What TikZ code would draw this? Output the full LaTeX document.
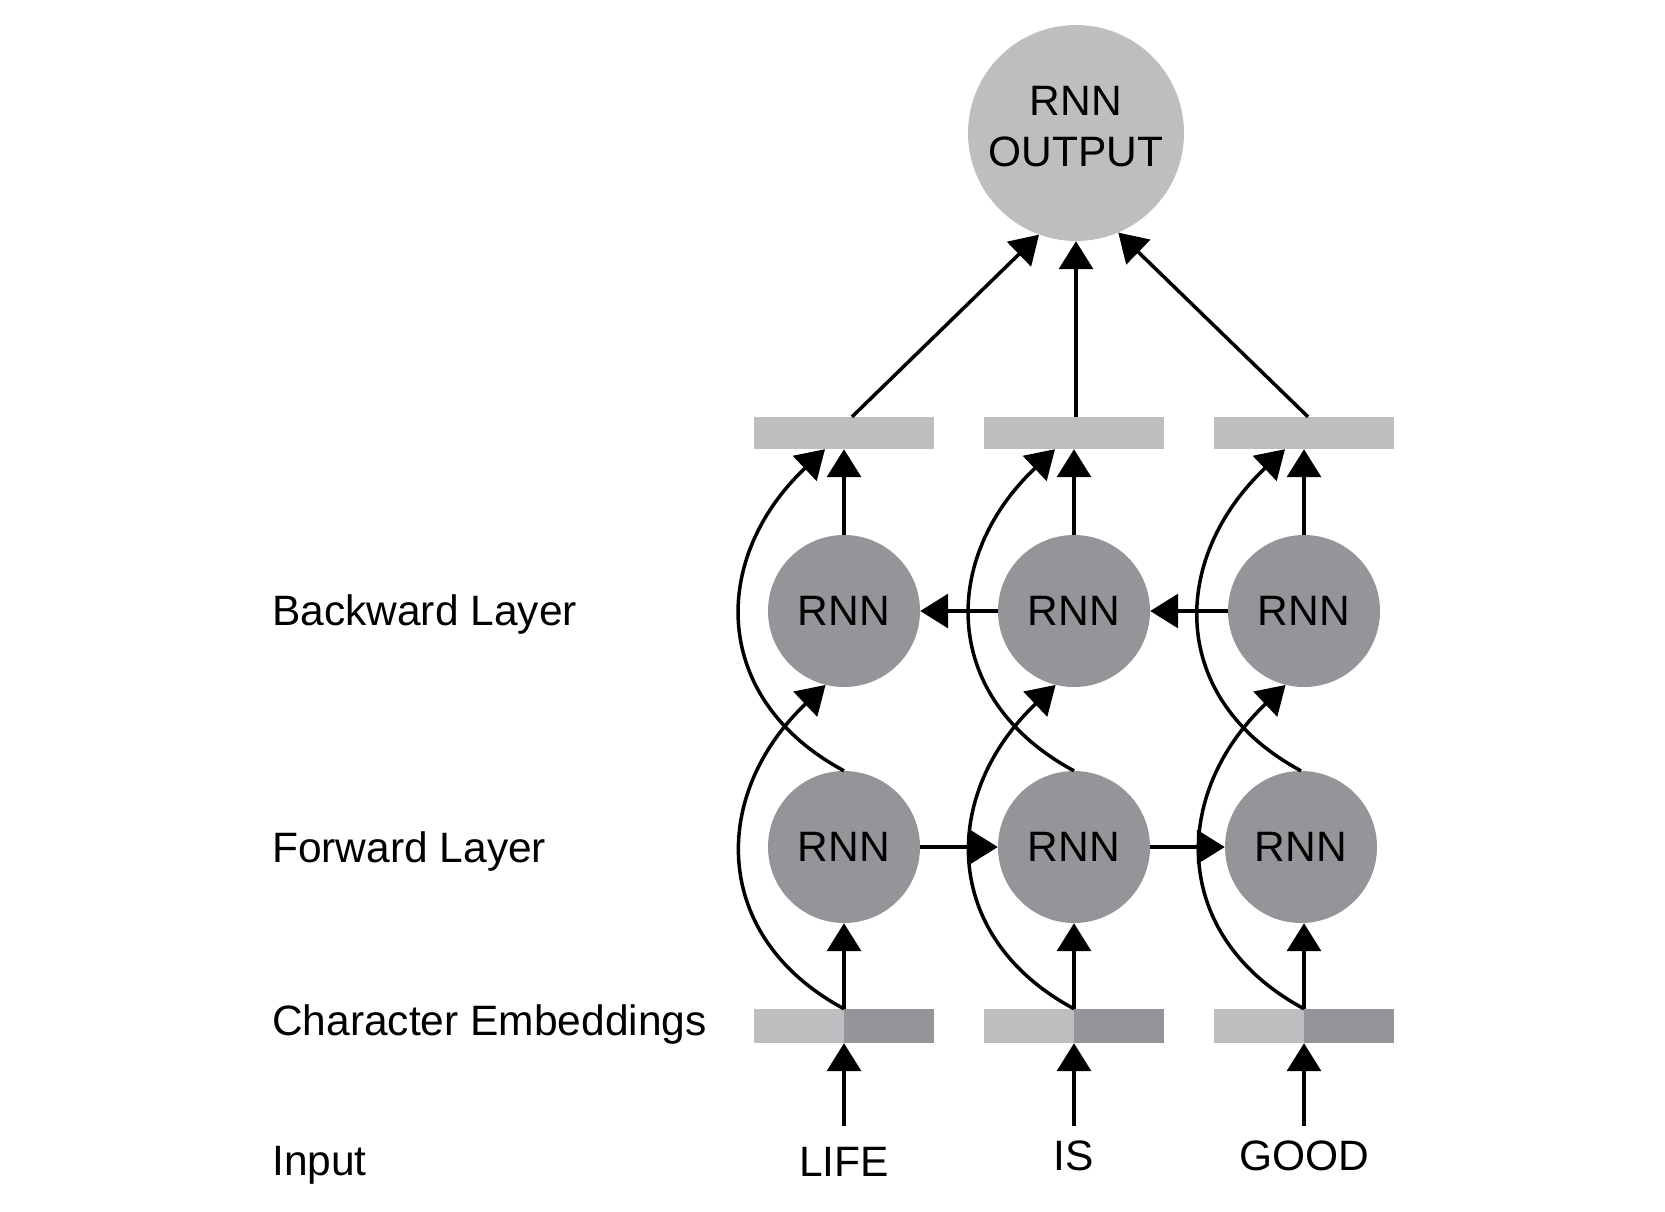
\documentclass[tikz,border=0pt]{standalone}
\usepackage{fontspec}
\setmainfont{Liberation Sans}
\usetikzlibrary{arrows.meta}
\definecolor{lightg}{RGB}{188,190,192}
\definecolor{darkg}{RGB}{147,149,152}
\begin{document}
\begin{tikzpicture}[x=1pt,y=-1pt,
  every node/.style={font=\fontsize{42.5}{51}\selectfont},
  rnn/.style={circle,fill=darkg,minimum size=152pt,inner sep=0pt},
  outc/.style={circle,fill=lightg,minimum size=216pt,inner sep=0pt,align=center},
  bar/.style={rectangle,fill=lightg,minimum width=180pt,minimum height=32pt,inner sep=0pt},
  emb/.style={rectangle,fill=lightg,minimum width=180pt,minimum height=34pt,inner sep=0pt,
    path picture={\fill[darkg] (path picture bounding box.north) rectangle (path picture bounding box.south east);}},
  lbl/.style={anchor=base west,inner sep=0pt},
  word/.style={anchor=base,inner sep=0pt},
  arr/.style={line width=3.5pt,-{Triangle[width=34pt,length=28pt]}}
]
\useasboundingbox (0,0) rectangle (1665,1211);

% nodes
\node[outc] (out) at (1076,133) {RNN\\OUTPUT\rule[-13pt]{0pt}{13pt}};

\node[bar] (t1) at (844,433) {};
\node[bar] (t2) at (1074,433) {};
\node[bar] (t3) at (1304,433) {};

\node[rnn] (b1) at (844,611) {RNN};
\node[rnn] (b2) at (1074,611) {RNN};
\node[rnn] (b3) at (1304,611) {RNN};

\node[rnn] (f1) at (844,847) {RNN};
\node[rnn] (f2) at (1074,847) {RNN};
\node[rnn] (f3) at (1301,847) {RNN};

\node[emb] (e1) at (844,1026) {};
\node[emb] (e2) at (1074,1026) {};
\node[emb] (e3) at (1304,1026) {};

\coordinate (i1) at (844,1126);
\coordinate (i2) at (1074,1126);
\coordinate (i3) at (1304,1126);

\node[word] (w1) at (844,1176) {LIFE};
\node[word] (w2) at (1074,1170) {IS};
\node[word] (w3) at (1304,1170) {GOOD};

\node[lbl] (lb) at (272,625) {Backward Layer};
\node[lbl] (lf) at (272,862) {Forward Layer};
\node[lbl] (lc) at (272,1035) {Character Embeddings};
\node[lbl] (li) at (272,1175) {Input};

% output arrows
\draw[arr] ([xshift=8pt]t1.north) -- (out.-110);
\draw[arr] ([xshift=2pt]t2.north) -- (out.south);
\draw[arr] ([xshift=4pt]t3.north) -- (out.-67);

% column arrows
\foreach \k in {1,2,3}{
  \draw[arr] (i\k) -- (e\k.south);
  \draw[arr] (e\k.north) -- (e\k.north |- f\k.south);
  \draw[arr] (b\k.north) -- (t\k.south);
  \draw[arr] (e\k.north) .. controls +(-134,-72) and +(-115,109) .. (b\k.-104);
  \draw[arr] (f\k.north) .. controls +(-134,-72) and +(-115,109) .. ([xshift=-19pt]t\k.south);
}

% recurrent arrows
\draw[arr] (f1.east) -- (f2.west);
\draw[arr] (f2.east) -- (f3.west);
\draw[arr] (b2.west) -- (b1.east);
\draw[arr] (b3.west) -- (b2.east);
\end{tikzpicture}
\end{document}
